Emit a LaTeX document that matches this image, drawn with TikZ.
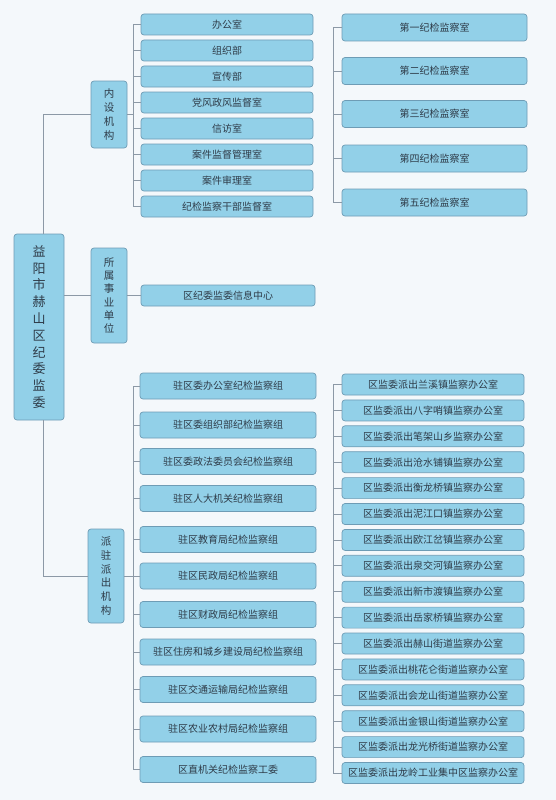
\documentclass[tikz,border=0pt]{standalone}
\usepackage{fontspec}
\setmainfont{Noto Sans CJK SC}
\usetikzlibrary{positioning}

\definecolor{bgcol}{HTML}{F4F8FB}
\definecolor{boxfill}{HTML}{92D0E8}
\definecolor{boxline}{HTML}{6E9CB5}
\definecolor{linkcol}{HTML}{8C99A6}
\definecolor{txtcol}{HTML}{2E3B48}

\tikzset{
    unit/.style={draw=boxline, fill=boxfill, rounded corners=3pt, line width=0.7pt,
        text=txtcol, font=\fontsize{10}{12}\selectfont, inner sep=0pt, align=center},
    colbox/.style={unit, minimum width=36pt, font=\fontsize{10.5}{#1}\selectfont},
    link/.style={draw=linkcol, line width=0.8pt}
}

\begin{document}
\begin{tikzpicture}[x=1pt, y=-1pt]
    % Background and page size
    \fill[bgcol] (0,0) rectangle (556,800);
    \useasboundingbox (0,0) rectangle (556,800);

    % Root and the three branches
    \node[unit, minimum width=50pt, minimum height=186pt, font=\fontsize{13}{16.8}\selectfont]
        (root) at (39,327) {益\\阳\\市\\赫\\山\\区\\纪\\委\\监\\委};
    \node[colbox=14, minimum height=67pt] (nsjg) at (109,114.5) {内\\设\\机\\构};
    \node[colbox=13.3, minimum height=95pt] (ssdw) at (109,295.5) {所\\属\\事\\业\\单\\位};
    \node[colbox=13.8, minimum height=94pt] (pzjg) at (106,576) {派\\驻\\派\\出\\机\\构};

    % Root connectors
    \draw[link] (nsjg.west) -| ([xshift=4pt]root.north);
    \draw[link] (pzjg.west) -| ([xshift=4pt]root.south);
    \draw[link] (root.east |- ssdw.west) -- (ssdw.west);

    % Internal offices
    \coordinate (nsbus) at (133,114.5);
    \draw[link] (nsjg.east) -- (nsbus);
    \foreach \name [count=\i from 0] in {办公室, 组织部, 宣传部, 党风政风监督室, 信访室,
        案件监督管理室, 案件审理室, 纪检监察干部监督室} {
        \node[unit, minimum width=172pt, minimum height=21pt] (ns\i) at (227,24.5+26*\i) {\name};
        \draw[link] (ns\i.west) -- (133,24.5+26*\i);
    }
    \draw[link] (133,24.5) -- (133,206.5);

    % Numbered discipline offices
    \foreach \name/\yy [count=\i] in {第一纪检监察室/27.5, 第二纪检监察室/71, 第三纪检监察室/114,
        第四纪检监察室/158.5, 第五纪检监察室/202.5} {
        \node[unit, minimum width=185pt, minimum height=27pt] (jj\i) at (434.5,\yy) {\name};
        \draw[link] (jj\i.west) -- (333,\yy);
    }
    \draw[link] (333,27.5) -- (333,202.5);

    % Affiliated unit
    \node[unit, minimum width=174pt, minimum height=21pt] (xxzx) at (228,295.5) {区纪委监委信息中心};
    \draw[link] (ssdw.east) -- (xxzx.west);

    % Stationed groups
    \coordinate (pzbus) at (133,576);
    \draw[link] (pzjg.east) -- (pzbus);
    \foreach \name/\yy [count=\i] in {驻区委办公室纪检监察组/386, 驻区委组织部纪检监察组/425,
        驻区委政法委员会纪检监察组/461.5, 驻区人大机关纪检监察组/498.5, 驻区教育局纪检监察组/539.5,
        驻区民政局纪检监察组/576, 驻区财政局纪检监察组/614.5, 驻区住房和城乡建设局纪检监察组/652,
        驻区交通运输局纪检监察组/689.5, 驻区农业农村局纪检监察组/729, 区直机关纪检监察工委/769.5} {
        \node[unit, minimum width=176pt, minimum height=26pt] (pz\i) at (228,\yy) {\name};
        \draw[link] (pz\i.west) -- (133,\yy);
    }
    \draw[link] (133,386) -- (133,769.5);

    % Dispatched supervision offices
    \foreach \name [count=\i from 0] in {兰溪镇, 八字哨镇, 笔架山乡, 沧水铺镇, 衡龙桥镇, 泥江口镇,
        欧江岔镇, 泉交河镇, 新市渡镇, 岳家桥镇, 赫山街道, 桃花仑街道, 会龙山街道, 金银山街道,
        龙光桥街道, 龙岭工业集中区} {
        \node[unit, minimum width=182pt, minimum height=21pt] (pc\i) at (433,384.5+25.9*\i) {区监委派出\name 监察办公室};
        \draw[link] (pc\i.west) -- (333,384.5+25.9*\i);
    }
    \draw[link] (333,384.5) -- (333,773);

\end{tikzpicture}
\end{document}
